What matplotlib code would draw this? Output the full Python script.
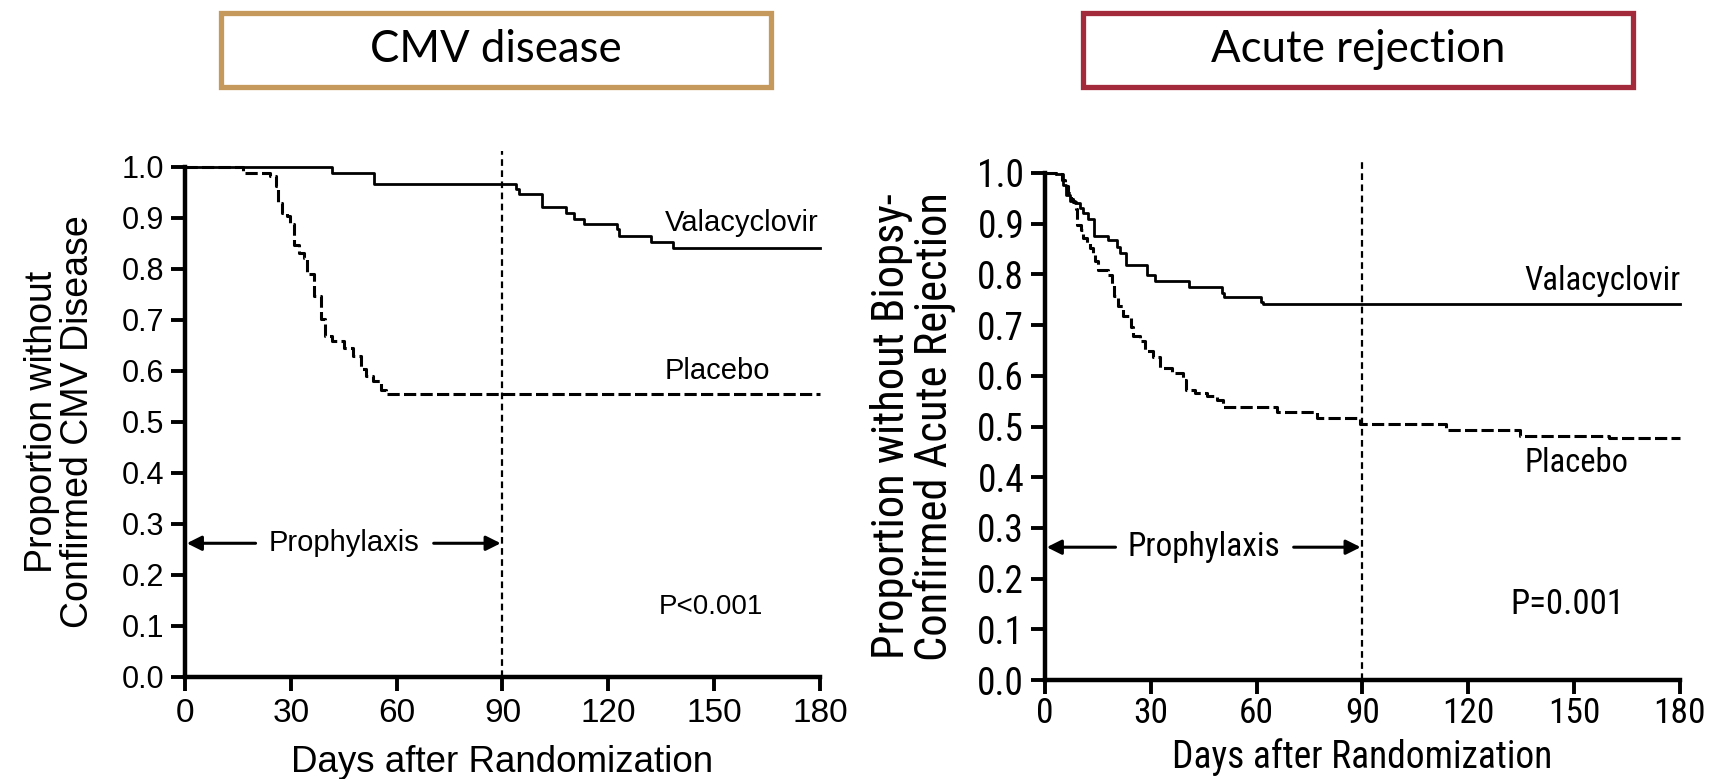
import matplotlib
matplotlib.use("Agg")
import matplotlib.pyplot as plt
from matplotlib.patches import Rectangle

# CMV disease panel (days, proportion after the step)
cmv_val_days = [0, 41.8, 53.7, 93.9, 94.8, 101.2, 107.9, 110.2, 113.1, 122.4, 123.1, 132.1, 138.3, 180]
cmv_val_surv = [1.0, 0.988, 0.967, 0.957, 0.946, 0.921, 0.910, 0.898, 0.888, 0.877, 0.864, 0.853, 0.840, 0.840]

cmv_pla_days = [0, 16.4, 24.2, 25.7, 26.4, 27.6, 28.8, 29.8, 30.9, 32.3, 33.7, 34.7, 36.6, 38.5,
                39.6, 41.8, 45.2, 47.5, 49.9, 51.3, 53.2, 55.6, 57.0, 180]
cmv_pla_surv = [1.0, 0.988, 0.982, 0.962, 0.929, 0.910, 0.903, 0.887, 0.846, 0.831, 0.822, 0.789, 0.746, 0.701,
                0.669, 0.658, 0.645, 0.629, 0.603, 0.590, 0.580, 0.563, 0.554, 0.554]

# Acute rejection panel
rej_val_days = [0, 3.1, 5.2, 6.1, 7.1, 8.5, 9.9, 10.9, 12.3, 14.0, 18.0, 20.3, 21.3, 22.9, 29.0, 31.2,
                40.9, 50.1, 50.8, 61.2, 61.7, 180]
rej_val_surv = [1.0, 0.997, 0.977, 0.957, 0.944, 0.941, 0.931, 0.921, 0.909, 0.876, 0.868, 0.854, 0.842, 0.819,
                0.799, 0.786, 0.776, 0.763, 0.755, 0.745, 0.742, 0.742]

rej_pla_days = [0, 3.1, 4.7, 5.7, 6.6, 7.3, 8.0, 8.8, 9.0, 9.2, 10.1, 10.7, 11.8, 12.8, 13.7, 14.2, 15.1,
                18.0, 18.9, 19.6, 20.8, 22.0, 24.3, 25.0, 26.9, 28.4, 30.7, 32.6, 35.9, 39.2, 39.9, 42.5,
                45.8, 48.7, 50.6, 65.9, 77.0, 89.3, 113.7, 134.7, 160, 180]
rej_pla_surv = [1.0, 0.997, 0.987, 0.974, 0.961, 0.949, 0.942, 0.928, 0.908, 0.898, 0.888, 0.872, 0.862, 0.852,
                0.842, 0.826, 0.809, 0.799, 0.780, 0.757, 0.737, 0.717, 0.697, 0.678, 0.668, 0.648, 0.638,
                0.615, 0.605, 0.592, 0.572, 0.566, 0.561, 0.553, 0.538, 0.528, 0.516, 0.504, 0.494, 0.482,
                0.478, 0.478]

x_ticks = [0, 30, 60, 90, 120, 150, 180]
y_ticks = [0.0, 0.1, 0.2, 0.3, 0.4, 0.5, 0.6, 0.7, 0.8, 0.9, 1.0]

panels = [
    dict(title="CMV disease", box_color="#C4995B", box_x=0.1292,
         val=(cmv_val_days, cmv_val_surv), pla=(cmv_pla_days, cmv_pla_surv),
         ylabel="Proportion without\nConfirmed CMV Disease",
         p_text="P<0.001", pos=[0.1082, 0.131, 0.3713, 0.655],
         font=["Liberation Sans", "DejaVu Sans"], xtick_size=24, ytick_size=22, xpad=5,
         xlab_size=26.5, ylab_size=27, ann_size=21, p_size=20, pro_size=21,
         ylab_x=-0.197, xlab_y=-0.168, xlab_va="center",
         val_y=0.89, pla_y=0.60, p_xy=(149, 0.137)),
    dict(title="Acute rejection", box_color="#A32A3B", box_x=0.6333,
         val=(rej_val_days, rej_val_surv), pla=(rej_pla_days, rej_pla_surv),
         ylabel="Proportion without Biopsy-\nConfirmed Acute Rejection",
         p_text="P=0.001", pos=[0.6111, 0.127, 0.3713, 0.651],
         font=["Liberation Sans Narrow", "Roboto Condensed", "Liberation Sans", "DejaVu Sans"],
         xtick_size=25.5, ytick_size=27, xpad=2,
         xlab_size=27, ylab_size=32, ann_size=23.5, p_size=25, pro_size=24,
         ylab_x=-0.208, xlab_y=-0.19, xlab_va="bottom",
         val_y=0.786, pla_y=0.428, p_xy=(148, 0.149)),
]

fig = plt.figure(figsize=(17.1, 7.79), dpi=100)

for p in panels:
    # title box
    fig.patches.append(Rectangle((p["box_x"], 0.888), 0.3216, 0.095, transform=fig.transFigure,
                                 fill=False, edgecolor=p["box_color"], linewidth=3.8))
    fig.text(p["box_x"] + 0.1608, 0.936, p["title"], ha="center", va="center",
             fontsize=31.5, family=["Lato", "DejaVu Sans"])

    ax = fig.add_axes(p["pos"])
    f = p["font"]
    ax.step(p["val"][0], p["val"][1], where="post", color="black", lw=2.0, clip_on=False)
    ax.step(p["pla"][0], p["pla"][1], where="post", color="black", lw=2.2,
            dashes=(4, 1.4), clip_on=False)
    ax.plot([90, 90], [0, 1.03], color="black", lw=1.6, dashes=(3, 2), clip_on=False)

    ax.set_xlim(0, 180)
    ax.set_ylim(0, 1.0)
    ax.set_xticks(x_ticks)
    ax.set_yticks(y_ticks)
    ax.set_xticklabels([str(t) for t in x_ticks], family=f)
    ax.set_yticklabels(["%.1f" % t for t in y_ticks], family=f)
    ax.tick_params(direction="out", length=10, width=2.8, pad=5)
    ax.tick_params(axis="x", labelsize=p["xtick_size"], pad=p["xpad"])
    ax.tick_params(axis="y", labelsize=p["ytick_size"])
    for s in ["top", "right"]:
        ax.spines[s].set_visible(False)
    for s in ["left", "bottom"]:
        ax.spines[s].set_linewidth(3.2)

    ax.text(p["ylab_x"], 0.5, p["ylabel"], transform=ax.transAxes, rotation=90,
            ha="center", va="center", fontsize=p["ylab_size"], family=f, linespacing=1.0)
    ax.text(0.5, p["xlab_y"], "Days after Randomization", transform=ax.transAxes,
            ha="center", va=p["xlab_va"], fontsize=p["xlab_size"], family=f)

    ax.text(136, p["val_y"], "Valacyclovir", ha="left", va="center", fontsize=p["ann_size"], family=f)
    ax.text(136, p["pla_y"], "Placebo", ha="left", va="center", fontsize=p["ann_size"], family=f)
    ax.text(p["p_xy"][0], p["p_xy"][1], p["p_text"], ha="center", va="center",
            fontsize=p["p_size"], family=f)

    # prophylaxis arrows
    ax.text(45, 0.262, "Prophylaxis", ha="center", va="center", fontsize=p["pro_size"], family=f)
    arrow = dict(arrowstyle="-|>", color="black", lw=2.2, mutation_scale=22, shrinkA=0, shrinkB=0)
    ax.annotate("", xy=(0.5, 0.262), xytext=(20, 0.262), arrowprops=arrow)
    ax.annotate("", xy=(89.5, 0.262), xytext=(70.5, 0.262), arrowprops=arrow)

fig.savefig("out.png", dpi=100)
